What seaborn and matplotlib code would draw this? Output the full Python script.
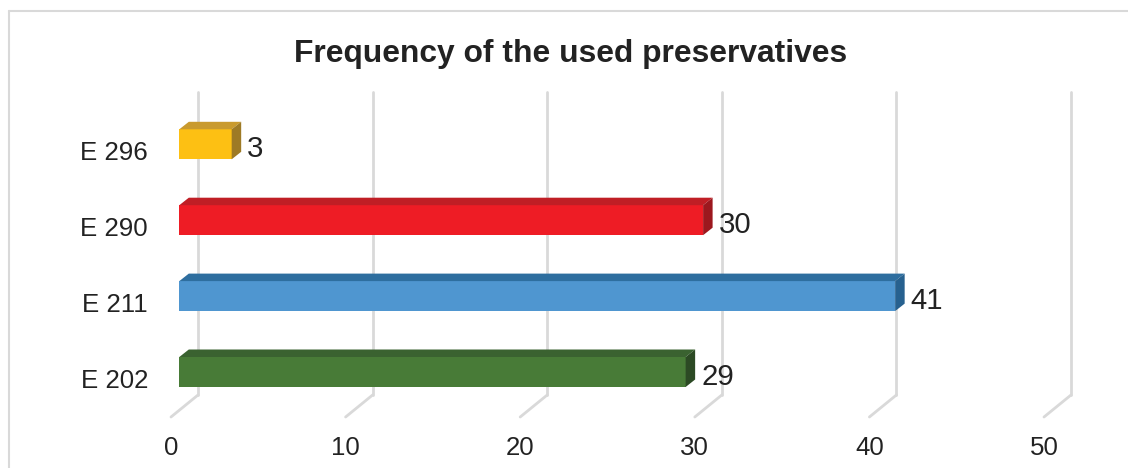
import matplotlib
matplotlib.use("Agg")
import matplotlib.pyplot as plt
from matplotlib.patches import Polygon
from matplotlib.lines import Line2D
from matplotlib.transforms import ScaledTranslation, blended_transform_factory
import seaborn as sns
import pandas as pd

# ---- data -------------------------------------------------------------
categories = ["E 296", "E 290", "E 211", "E 202"]
counts = [3, 30, 41, 29]
x_ticks = [0, 10, 20, 30, 40, 50]
title = "Frequency of the used preservatives"

# face colours of the 3-D bars: front / top / right side
front_colors = ["#FDC013", "#EE1C25", "#4F96D0", "#487B37"]
top_colors = ["#C99A2E", "#C01E25", "#2E6E9F", "#3A6230"]
side_colors = ["#9E7A25", "#9C181E", "#27618F", "#2C4A24"]

# ---- figure geometry (pixels) -----------------------------------------
W, H, DPI = 1128, 468, 100
PX_PER_UNIT = 17.46
ZERO_X = 179.3          # where a bar's front face starts
GRID_TOP, GRID_BOT, FLOOR = 92, 395, 417
ROW0_Y, ROW_STEP = 144.3, 75.9
BAR_PX = 30
DEPTH_DX, DEPTH_DY = 9.5, 7.5       # bar depth
BACK_DX, FRONT_DX = 18.7, -8.3      # back wall / front edge of the floor

sns.set_theme(style="white")
plt.rcParams["font.family"] = ["Liberation Sans", "DejaVu Sans"]
text_color = "#222222"
grid_color = "#D9D9D9"

fig = plt.figure(figsize=(W / DPI, H / DPI), dpi=DPI)
fig.patch.set_facecolor("white")

x_max = max(x_ticks)
ax_left = ZERO_X / W
ax_width = x_max * PX_PER_UNIT / W
ax_bottom = 1 - FLOOR / H
ax_height = (FLOOR - GRID_TOP) / H
ax = fig.add_axes([ax_left, ax_bottom, ax_width, ax_height])
ax.set_facecolor("none")

df = pd.DataFrame({"preservative": categories, "count": counts})
sns.barplot(data=df, x="count", y="preservative", hue="preservative",
            palette=front_colors, saturation=1, width=BAR_PX / ROW_STEP,
            linewidth=0, legend=False, ax=ax, orient="h", zorder=3)

y_top_idx = -(ROW0_Y - GRID_TOP) / ROW_STEP
y_bot_idx = (FLOOR - ROW0_Y) / ROW_STEP
ax.set_xlim(0, x_max)
ax.set_ylim(y_bot_idx, y_top_idx)
for s in ax.spines.values():
    s.set_visible(False)
ax.set_xticks([])
ax.set_yticks([])
ax.set_xlabel("")
ax.set_ylabel("")


def px_shift(dx, dy):
    """Offset in screen pixels (dy positive = down)."""
    return ScaledTranslation(dx / DPI, -dy / DPI, fig.dpi_scale_trans)


# back-wall gridlines with the floor diagonal and the value-axis labels
xb = blended_transform_factory(ax.transData, ax.transAxes)
grid_bot_f = (FLOOR - GRID_BOT) / (FLOOR - GRID_TOP)
for v in x_ticks:
    ax.add_line(Line2D([v, v], [1.0, grid_bot_f],
                       transform=xb + px_shift(BACK_DX, 0),
                       color=grid_color, lw=2.0, clip_on=False, zorder=1))
    x_disp = ax.transData.transform((v, 0))[0]
    fig.add_artist(Line2D([(x_disp + BACK_DX) / W, (x_disp + FRONT_DX) / W],
                          [1 - GRID_BOT / H, 1 - FLOOR / H],
                          transform=fig.transFigure, color=grid_color,
                          lw=2.0, zorder=1))
    ax.text(v, 0, f"{v}", transform=xb + px_shift(FRONT_DX, 455 - FLOOR),
            ha="center", va="baseline", fontsize=18.6, color=text_color)

# depth faces and value labels for every bar
ddx = DEPTH_DX / PX_PER_UNIT
ddy = DEPTH_DY / ROW_STEP
for i, bar in enumerate(ax.patches):
    x0 = bar.get_x()
    x1 = x0 + bar.get_width()
    ya = bar.get_y()
    yb = ya + bar.get_height()
    top_y, bot_y = min(ya, yb), max(ya, yb)
    top = Polygon([(x0, top_y), (x1, top_y), (x1 + ddx, top_y - ddy),
                   (x0 + ddx, top_y - ddy)], closed=True,
                  facecolor=top_colors[i], edgecolor="none", zorder=3,
                  clip_on=False)
    side = Polygon([(x1, top_y), (x1 + ddx, top_y - ddy),
                    (x1 + ddx, bot_y - ddy), (x1, bot_y)], closed=True,
                   facecolor=side_colors[i], edgecolor="none", zorder=3,
                   clip_on=False)
    ax.add_patch(top)
    ax.add_patch(side)
    bar.set_clip_on(False)
    yc = (top_y + bot_y) / 2
    ax.text(x1, yc, f"{int(round(bar.get_width()))}",
            transform=ax.transData + px_shift(DEPTH_DX + 6, 12.5),
            ha="left", va="baseline", fontsize=21.2, color=text_color,
            clip_on=False)

# category labels
for i, cat in enumerate(categories):
    ax.text(0, i, cat, transform=ax.transData + px_shift(148 - ZERO_X, 15.7),
            ha="right", va="baseline", fontsize=18.6, color=text_color)

# title
fig.text(571 / W, 1 - 62 / H, title, ha="center", va="baseline",
         fontsize=22.9, fontweight="bold", color=text_color)

# chart border (left and top edges)
fig.add_artist(Line2D([8.5 / W, 8.5 / W], [0, 1 - 10.7 / H],
                      transform=fig.transFigure, color=grid_color, lw=1.5))
fig.add_artist(Line2D([8.5 / W, 1], [1 - 10.7 / H, 1 - 10.7 / H],
                      transform=fig.transFigure, color=grid_color, lw=1.5))

fig.savefig("out.png", dpi=DPI, facecolor="white")
